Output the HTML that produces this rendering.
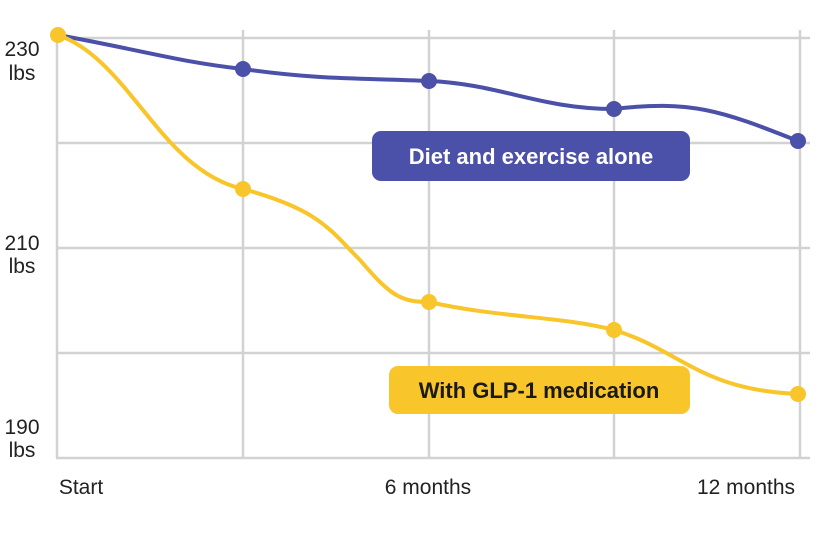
<!DOCTYPE html>
<html><head><style>
body{margin:0;background:#fff;width:840px;height:536px;overflow:hidden;font-family:"Liberation Sans",sans-serif}
</style></head><body>
<svg width="840" height="536" xmlns="http://www.w3.org/2000/svg" font-family="Liberation Sans, sans-serif">
<g stroke="#d2d2d2" stroke-width="2.5" fill="none">
<line x1="57" y1="30" x2="57" y2="458"/>
<line x1="243" y1="30" x2="243" y2="458"/>
<line x1="429" y1="30" x2="429" y2="458"/>
<line x1="614" y1="30" x2="614" y2="458"/>
<line x1="800" y1="30" x2="800" y2="458"/>
<line x1="56" y1="38" x2="810" y2="38"/>
<line x1="56" y1="143" x2="810" y2="143"/>
<line x1="56" y1="248" x2="810" y2="248"/>
<line x1="56" y1="353" x2="810" y2="353"/>
<line x1="56" y1="458" x2="810" y2="458"/>
</g>
<g font-size="21" fill="#222" text-anchor="middle">
<text x="22" y="56">230</text><text x="22" y="80">lbs</text>
<text x="22" y="250">210</text><text x="22" y="273">lbs</text>
<text x="22" y="434">190</text><text x="22" y="457">lbs</text>
<text x="81" y="494">Start</text>
<text x="428" y="494">6 months</text>
<text x="746" y="494">12 months</text>
</g>
<path d="M58,35 C150,52 180,62 243,69 C320,80 360,78 429,81 C500,84 540,109 614,109 C690,100 720,110 798,141" stroke="#4b50a8" stroke-width="4" fill="none"/>
<path d="M58,35 C130,60 160,170 243,189 C320,210 330,230 360,260 C390,295 400,302 429,302 C500,318 560,316 614,330 C680,350 700,390 798,394" stroke="#f8c52a" stroke-width="4" fill="none"/>
<g fill="#4b50a8">
<circle cx="243" cy="69" r="8"/><circle cx="429" cy="81" r="8"/><circle cx="614" cy="109" r="8"/><circle cx="798" cy="141" r="8"/>
</g>
<g fill="#f8c52a">
<circle cx="58" cy="35" r="8"/><circle cx="243" cy="189" r="8"/><circle cx="429" cy="302" r="8"/><circle cx="614" cy="330" r="8"/><circle cx="798" cy="394" r="8"/>
</g>
<rect x="372" y="131" width="318" height="50" rx="9" fill="#4b50a8"/>
<text x="531" y="164" font-size="22" font-weight="bold" fill="#fff" text-anchor="middle">Diet and exercise alone</text>
<rect x="389" y="366" width="301" height="48" rx="9" fill="#f8c52a"/>
<text x="539" y="398" font-size="22" font-weight="bold" fill="#1a1a1a" text-anchor="middle">With GLP-1 medication</text>
</svg>
</body></html>
